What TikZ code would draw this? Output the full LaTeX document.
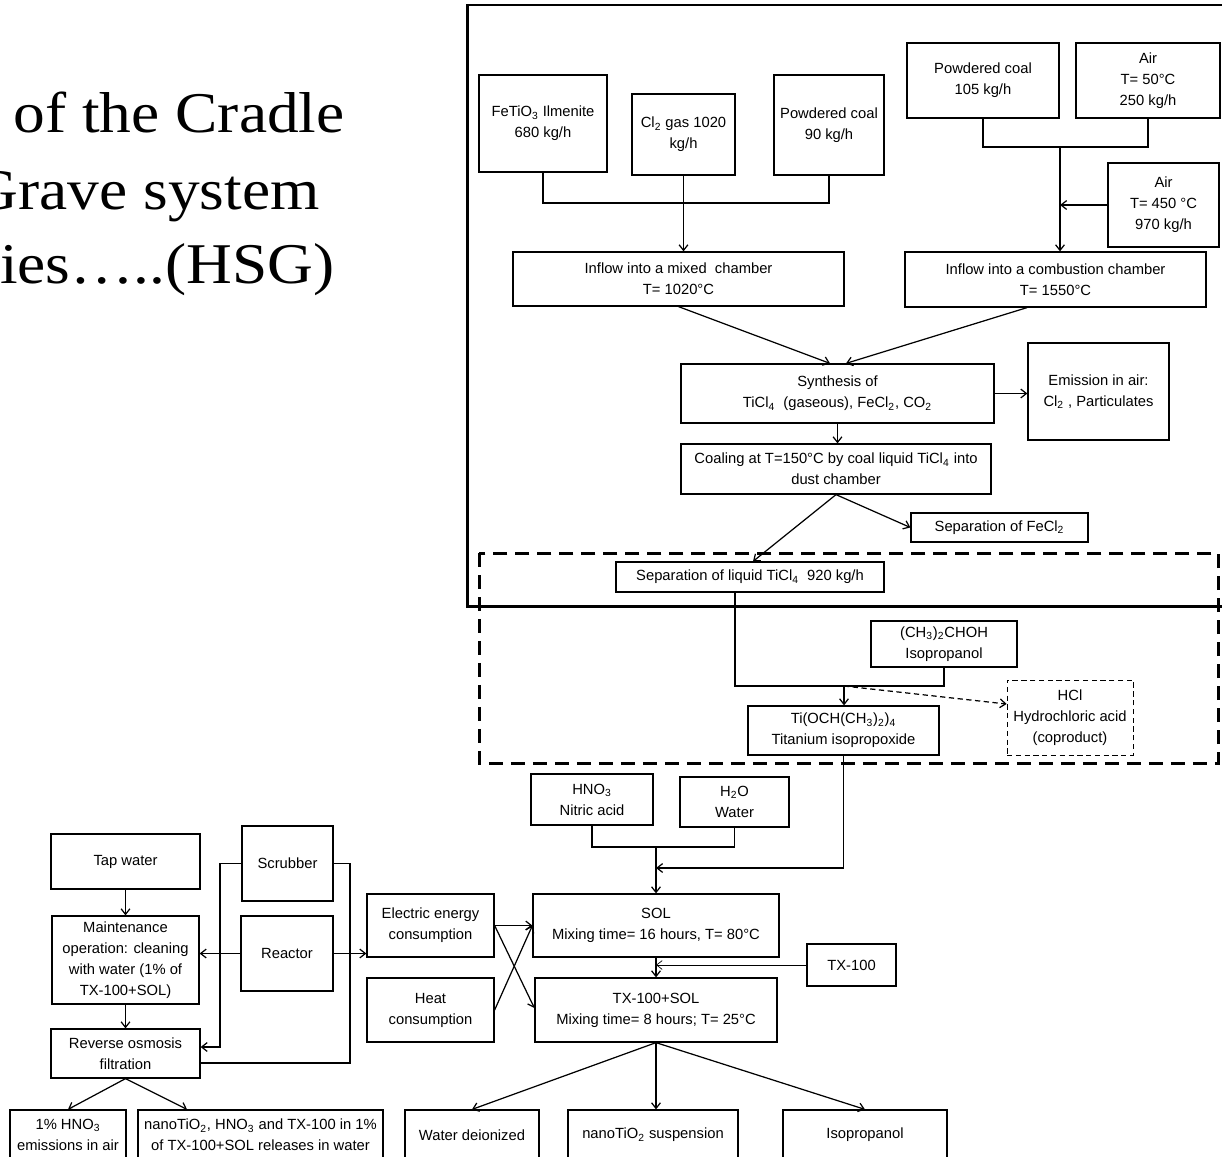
\documentclass[tikz,border=0pt]{standalone}
\usepackage{fontspec}
\setsansfont{Liberation Sans}
\newfontfamily\titlefont[FakeStretch=1.1]{Liberation Serif}
\usetikzlibrary{arrows.meta}

\begin{document}
\begin{tikzpicture}[
    x=0.02cm, y=-0.02cm,
    blk/.style 2 args={draw, line width=0.7pt, align=center, inner sep=1pt,
        minimum width=#1*0.02cm, minimum height=#2*0.02cm,
        font=\sffamily\fontsize{8.4}{12}\selectfont},
    arrow/.style={-{Straight Barb[length=3.2pt,width=5pt]}, line width=0.7pt},
    link/.style={line width=0.7pt},
    heading/.style={font=\titlefont\fontsize{32.8}{38}\selectfont, anchor=base east, inner sep=0pt}
]
    \useasboundingbox (0,0) rectangle (1222,1156);
    \clip (0,0) rectangle (1222,1156);

    % Title (cut off on the left)
    \node[heading] (t1) at (345,132) {of the Cradle};
    \node[heading] (t2) at (320,209) {Grave system};
    \node[heading] (t3) at (335,283) {ies…..(HSG)};

    % Frames
    \draw[line width=1.7pt] (467,5) rectangle (1240,606);
    \draw[line width=1.7pt, dash pattern=on 0.28cm off 0.16cm] (479,553) rectangle (1218,763);

    % TiCl4 production
    \node[blk={128}{97}] (fetio) at (543,123.5) {FeTiO\textsubscript{3} Ilmenite\\680 kg/h};
    \node[blk={103}{81}] (cl) at (683.5,134.5) {Cl\textsubscript{2} gas 1020\\kg/h};
    \node[blk={110}{100}] (coal90) at (829,125) {Powdered coal\\90 kg/h};
    \node[blk={152}{75}] (coal105) at (983,80.5) {Powdered coal\\105 kg/h};
    \node[blk={144}{75}] (air50) at (1148,80.5) {Air\\T= 50°C\\250 kg/h};
    \node[blk={111}{84}] (air450) at (1163.5,205) {Air\\T= 450 °C\\970 kg/h};
    \node[blk={331}{54}] (mixed) at (678.5,279) {Inflow into a mixed~ chamber\\T= 1020°C};
    \node[blk={301}{55}] (comb) at (1055.5,279.5) {Inflow into a combustion chamber\\T= 1550°C};
    \node[blk={313}{59}] (synth) at (837.5,393.5) {Synthesis of\\TiCl\textsubscript{4}~ (gaseous), FeCl\textsubscript{2}, CO\textsubscript{2}};
    \node[blk={141}{97}] (emis) at (1098.5,391.5) {Emission in air:\\Cl\textsubscript{2} , Particulates};
    \node[blk={310}{50}] (coal) at (836,469) {Coaling at T=150°C by coal liquid TiCl\textsubscript{4} into\\dust chamber};
    \node[blk={177}{29}] (fecl) at (999.5,527.5) {Separation of FeCl\textsubscript{2}};
    \node[blk={268}{30}] (sepliq) at (750,577) {Separation of liquid TiCl\textsubscript{4}~ 920 kg/h};

    % Titanium isopropoxide
    \node[blk={146}{46}] (ipa) at (944,644) {(CH\textsubscript{3})\textsubscript{2}CHOH\\Isopropanol};
    \node[blk={191}{49}] (tiip) at (843.5,730.5) {Ti(OCH(CH\textsubscript{3})\textsubscript{2})\textsubscript{4}\\Titanium isopropoxide};
    \node[blk={126}{75}, line width=0.5pt, densely dashed] (hcl) at (1070,717.5) {HCl\\Hydrochloric acid\\(coproduct)};

    % Sol preparation
    \node[blk={122}{51}] (hno) at (592,799.5) {HNO\textsubscript{3}\\Nitric acid};
    \node[blk={109}{50}] (water) at (734.5,802) {H\textsubscript{2}O\\Water};
    \node[blk={246}{63}] (sol) at (656,925.5) {SOL\\Mixing time= 16 hours, T= 80°C};
    \node[blk={242}{64}] (txsol) at (656,1010) {TX-100+SOL\\Mixing time= 8 hours; T= 25°C};
    \node[blk={89}{42}] (tx) at (851.5,965) {TX-100};
    \node[blk={127}{63}] (elec) at (430.5,925.5) {Electric energy\\consumption};
    \node[blk={127}{64}] (heat) at (430.5,1010) {Heat\\consumption};
    \node[blk={134}{50}] (wdi) at (472,1135) {Water deionized};
    \node[blk={170}{50}] (nano) at (653,1135) {nanoTiO\textsubscript{2} suspension};
    \node[blk={164}{50}] (iso2) at (865,1135) {Isopropanol};

    % Maintenance
    \node[blk={149}{55}] (tap) at (125.5,861.5) {Tap water};
    \node[blk={147}{88}] (maint) at (125.5,960) {Maintenance\\operation: cleaning\\with water (1\% of\\TX-100+SOL)};
    \node[blk={149}{49}] (ro) at (125.5,1053.5) {Reverse osmosis\\filtration};
    \node[blk={91}{75}] (scrub) at (287.5,863.5) {Scrubber};
    \node[blk={92}{75}] (reac) at (287,953.5) {Reactor};
    \node[blk={116}{50}] (hnoair) at (68,1135) {1\% HNO\textsubscript{3}\\emissions in air};
    \node[blk={245}{50}] (rel) at (260.5,1135) {nanoTiO\textsubscript{2}, HNO\textsubscript{3} and TX-100 in 1\%\\of TX-100+SOL releases in water};

    % Feeds into the chambers
    \coordinate (j1) at (685,203);
    \coordinate (j2) at (1060,147);
    \draw[link] (fetio.south) |- (j1) -| (coal90.south);
    \draw[arrow] (cl.south) -- (cl.south |- mixed.north);
    \draw[link] (coal105.south) |- (j2) -| (air50.south);
    \draw[arrow] (j2) -- (j2 |- comb.north);
    \draw[arrow] (air450.west) -- (air450.west -| j2);

    % Synthesis and separation
    \draw[arrow] (mixed.south) -- ([xshift=-0.15cm]synth.north);
    \draw[arrow] ([xshift=-0.57cm]comb.south) -- ([xshift=0.17cm]synth.north);
    \draw[arrow] (synth.east) -- (synth.east -| emis.west);
    \draw[arrow] (synth.south) -- (synth.south |- coal.north);
    \draw[arrow] (coal.south) -- ([xshift=0.06cm]sepliq.north);
    \draw[arrow] (coal.south) -- (fecl.west);

    % Isopropoxide
    \coordinate (j3) at (844,686);
    \draw[link] ([xshift=-0.3cm]sepliq.south) |- (j3) -| (ipa.south);
    \draw[arrow] (j3) -- (j3 |- tiip.north);
    \draw[arrow, densely dashed] (j3) -- ([yshift=0.27cm]hcl.west);

    % Sol
    \coordinate (j5) at (656,847);
    \coordinate (j4) at (656,868);
    \draw[link] (hno.south) |- (j5) -| (water.south);
    \draw[arrow] (j5) -- (sol.north);
    \draw[arrow] (tiip.south) |- (j4);
    \draw[arrow] (sol.south) -- (txsol.north);
    \draw[arrow, line width=0.4pt] (tx.west) -- (tx.west -| sol.south);
    \draw[arrow] (elec.east) -- (sol.west);
    \draw[arrow] (elec.east) -- ([yshift=0.04cm]txsol.west);
    \draw[arrow] (heat.east) -- (sol.west);

    % Products
    \draw[arrow] (txsol.south) -- (wdi.north);
    \draw[arrow] (txsol.south) -- (txsol.south |- nano.north);
    \draw[arrow] (txsol.south) -- (iso2.north);

    % Maintenance loop
    \coordinate (k1) at (220,1047);
    \coordinate (k2) at (350,1063);
    \draw[arrow] (tap) -- (maint);
    \draw[arrow] (maint) -- (ro);
    \draw[arrow] (reac.west) -- (reac.west -| maint.east);
    \draw[arrow] (reac.east) -- (reac.east -| elec.west);
    \draw[arrow] (scrub.west) -| (k1) -- (k1 -| ro.east);
    \draw[link] (scrub.east) -| (k2) -- (k2 -| ro.east);
    \draw[arrow] (ro.south) -- (hnoair.north);
    \draw[arrow] (ro.south) -- ([xshift=-1.47cm]rel.north);
\end{tikzpicture}
\end{document}
